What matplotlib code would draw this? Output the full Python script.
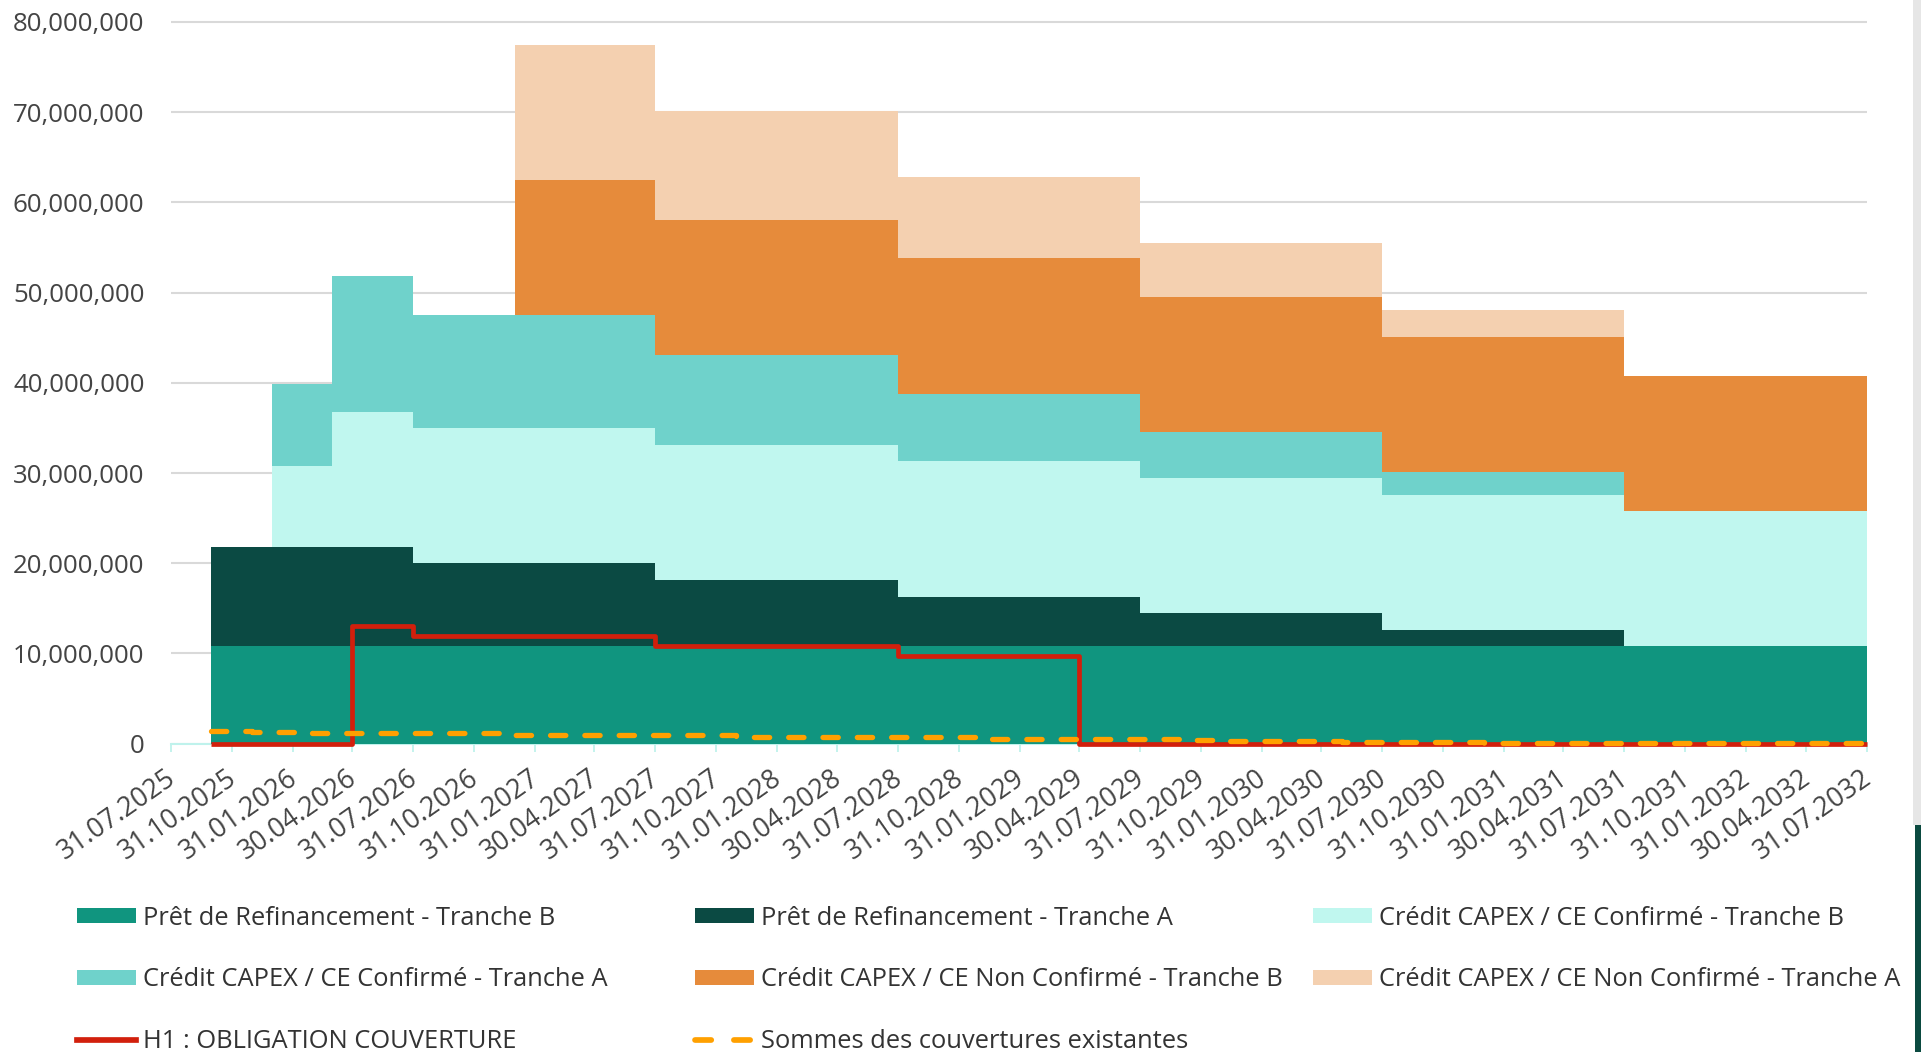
import matplotlib
matplotlib.use("Agg")
import matplotlib.pyplot as plt
import matplotlib.dates as mdates
import matplotlib.transforms as mtransforms
from matplotlib.patches import Patch, Rectangle
from matplotlib.lines import Line2D
from matplotlib.ticker import FuncFormatter
from datetime import datetime
import numpy as np

plt.rcParams['font.family'] = ['Open Sans', 'DejaVu Sans']
plt.rcParams['lines.scale_dashes'] = False

# ---------------- data ----------------
tick_labels = ["31.07.2025", "31.10.2025", "31.01.2026", "30.04.2026", "31.07.2026",
               "31.10.2026", "31.01.2027", "30.04.2027", "31.07.2027", "31.10.2027",
               "31.01.2028", "30.04.2028", "31.07.2028", "31.10.2028", "31.01.2029",
               "30.04.2029", "31.07.2029", "31.10.2029", "31.01.2030", "30.04.2030",
               "31.07.2030", "31.10.2030", "31.01.2031", "30.04.2031", "31.07.2031",
               "31.10.2031", "31.01.2032", "30.04.2032", "31.07.2032"]

step_dates = ["30.09.2025", "31.12.2025", "31.03.2026", "30.04.2026", "31.07.2026",
              "31.12.2026", "31.07.2027", "31.07.2028", "30.04.2029", "31.07.2029",
              "31.07.2030", "31.07.2031", "31.07.2032"]

refi_b = [10.8e6, 10.8e6, 10.8e6, 10.8e6, 10.8e6, 10.8e6, 10.8e6, 10.8e6, 10.8e6, 10.8e6, 10.8e6, 10.8e6, 10.8e6]
refi_a = [11.0e6, 11.0e6, 11.0e6, 11.0e6, 9.2e6, 9.2e6, 7.3e6, 5.5e6, 5.5e6, 3.7e6, 1.8e6, 0, 0]
conf_b = [0, 9.0e6, 15.0e6, 15.0e6, 15.0e6, 15.0e6, 15.0e6, 15.0e6, 15.0e6, 15.0e6, 15.0e6, 15.0e6, 15.0e6]
conf_a = [0, 9.1e6, 15.0e6, 15.0e6, 12.5e6, 12.5e6, 10.0e6, 7.5e6, 7.5e6, 5.0e6, 2.5e6, 0, 0]
nc_b = [0, 0, 0, 0, 0, 15.0e6, 15.0e6, 15.0e6, 15.0e6, 15.0e6, 15.0e6, 15.0e6, 15.0e6]
nc_a = [0, 0, 0, 0, 0, 15.0e6, 12.0e6, 9.0e6, 9.0e6, 6.0e6, 3.0e6, 0, 0]
h1 = [0, 0, 0, 13.06e6, 11.97e6, 11.97e6, 10.86e6, 9.75e6, 0, 0, 0, 0, 0]

cov_dates = ["30.09.2025", "30.11.2025", "28.02.2026", "31.12.2026", "30.11.2027",
             "30.11.2028", "30.09.2029", "30.11.2029", "31.05.2030", "31.12.2030", "31.07.2032"]
cov = [1.45e6, 1.30e6, 1.17e6, 0.95e6, 0.75e6, 0.50e6, 0.36e6, 0.24e6, 0.14e6, 0.07e6, 0.07e6]

series_names = ["Prêt de Refinancement - Tranche B", "Prêt de Refinancement - Tranche A",
                "Crédit CAPEX / CE Confirmé - Tranche B", "Crédit CAPEX / CE Confirmé - Tranche A",
                "Crédit CAPEX / CE Non Confirmé - Tranche B", "Crédit CAPEX / CE Non Confirmé - Tranche A"]
line_names = ["H1 : OBLIGATION COUVERTURE", "Sommes des couvertures existantes"]

colors = ["#10957F", "#0B4A43", "#C0F7EF", "#6FD2CB", "#E68B3B", "#F4D0B0"]
red = "#D21F0C"
amber = "#FFA000"

# ---------------- figure ----------------
W, H = 1921, 1052
fig = plt.figure(figsize=(W / 100, H / 100), dpi=100)

def fx(px):
    return px / W

def fy(py):
    return 1 - py / H

ax_left, ax_right = 171.0, 1867.0
y0_px, per_m = 743.6, 9.02
ymax = 81e6
ax_top = y0_px - ymax / 1e6 * per_m
ax = fig.add_axes([fx(ax_left), fy(y0_px), (ax_right - ax_left) / W, (y0_px - ax_top) / H])

def d(s):
    return datetime.strptime(s, "%d.%m.%Y")

x = mdates.date2num([d(s) for s in step_dates])
xc = mdates.date2num([d(s) for s in cov_dates])
xt = mdates.date2num([d(s) for s in tick_labels])

layers = [refi_b, refi_a, conf_b, conf_a, nc_b, nc_a]
base = np.zeros(len(x))
for vals, c, n in zip(layers, colors, series_names):
    top = base + np.array(vals, dtype=float)
    ax.fill_between(x, base, top, step='post', color=c, lw=0, label=n, zorder=2)
    base = top

ax.step(x, h1, where='post', color=red, lw=3.4, clip_on=False, zorder=5,
        solid_joinstyle='round', solid_capstyle='butt')
ax.step(xc, cov, where='post', color=amber, lw=3.8, dashes=(11.0, 13.7),
        dash_capstyle='round', clip_on=False, zorder=6)

ax.set_xlim(xt[0], xt[-1])
ax.set_ylim(0, ymax)

ax.set_yticks(np.arange(0, 80e6 + 1, 10e6))
ax.yaxis.set_major_formatter(FuncFormatter(lambda v, p: f"{int(round(v)):,}"))
ax.set_xticks(xt)
ax.set_xticklabels(tick_labels, rotation=35, ha='right', va='top', rotation_mode='anchor')

for s in ['left', 'top', 'right']:
    ax.spines[s].set_visible(False)
ax.spines['bottom'].set_color('#BFF2EC')
ax.spines['bottom'].set_linewidth(1.5)
ax.spines['bottom'].set_zorder(1)

ax.tick_params(axis='x', colors='#BFF2EC', length=6, width=1.3, direction='out',
               labelcolor='#444444', labelsize=19.3, pad=9)
ax.tick_params(axis='y', length=0, labelcolor='#444444', labelsize=18.6, pad=19)

offset = mtransforms.ScaledTranslation(-6 / 100, 0, fig.dpi_scale_trans)
for lab in ax.get_xticklabels():
    lab.set_transform(lab.get_transform() + offset)

ax.set_axisbelow(True)
ax.yaxis.grid(True, color='#D9D9D9', lw=1.5)
ax.xaxis.grid(False)
ax.patch.set_alpha(0)

# ---------------- legend ----------------
handles = [Patch(facecolor=c, edgecolor='none') for c in colors]
handles += [Line2D([], [], color=red, lw=4.1),
            Line2D([], [], color=amber, lw=4.1, dashes=(11.7, 16.3), dash_capstyle='round')]
labels = series_names + line_names

col_x = [77, 695, 1313]
row_y = [918.5, 980.0, 1041.5]
for i, (h, l) in enumerate(zip(handles, labels)):
    r, c = divmod(i, 3)
    fig.legend([h], [l], loc='center left', bbox_to_anchor=(fx(col_x[c]), fy(row_y[r])),
               frameon=False, fontsize=18.4, borderpad=0, borderaxespad=0,
               handlelength=2.31, handleheight=0.52, handletextpad=0.28,
               labelcolor='#333333')

# right-edge window artefacts
fig.patches.append(Rectangle((fx(1913), fy(825)), 8 / W, 825 / H, transform=fig.transFigure,
                             facecolor='#E6E6E6', edgecolor='none'))
fig.patches.append(Rectangle((fx(1915), 0), 6 / W, (H - 825) / H, transform=fig.transFigure,
                             facecolor='#0B4A40', edgecolor='none'))

fig.savefig("out.png", dpi=100)
